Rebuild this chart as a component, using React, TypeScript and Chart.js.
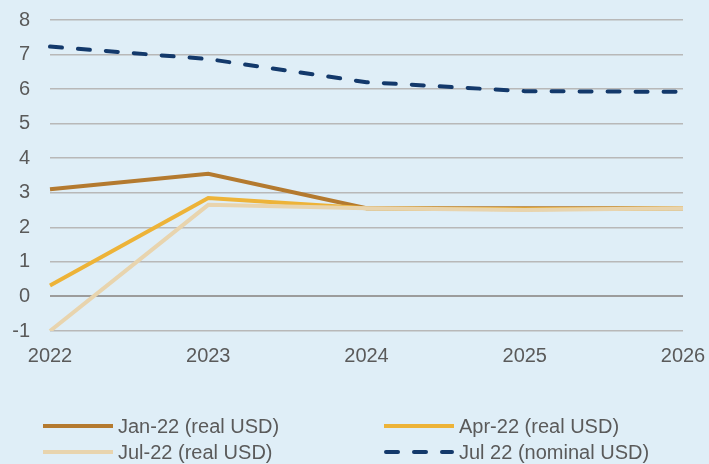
import React, { useEffect, useRef } from "react";
import { Chart, registerables } from "chart.js";

Chart.register(...registerables);

const years = ["2022", "2023", "2024", "2025", "2026"];
const jan22Real = [3.1, 3.55, 2.55, 2.55, 2.55];
const apr22Real = [0.32, 2.85, 2.55, 2.52, 2.55];
const jul22Real = [-1.0, 2.65, 2.55, 2.5, 2.55];
const jul22Nominal = [7.23, 6.87, 6.2, 5.94, 5.92];
const seriesLabels = ["Jan-22 (real USD)", "Apr-22 (real USD)", "Jul-22 (real USD)", "Jul 22 (nominal USD)"];

const FONT = '"Liberation Sans", Arial, sans-serif';
const TEXT = "#5a5a5a";

const legendPlugin = {
  id: "gridLegend",
  afterDraw(chart: any) {
    const ctx = chart.ctx;
    const cols = [43, 384];
    const rows = [426, 452];
    const sampleLen = 70;
    const order = [0, 1, 2, 3];
    ctx.save();
    order.forEach((di, i) => {
      const ds = chart.data.datasets[di];
      const x = cols[i % 2];
      const y = rows[Math.floor(i / 2)];
      ctx.beginPath();
      ctx.strokeStyle = ds.borderColor;
      ctx.lineWidth = ds.borderWidth;
      if (ds.borderDash && ds.borderDash.length) {
        ctx.setLineDash(ds.borderDash);
        ctx.lineCap = "round";
        ctx.moveTo(x + 2, y);
        ctx.lineTo(x + sampleLen - 2, y);
      } else {
        ctx.setLineDash([]);
        ctx.lineCap = "butt";
        ctx.moveTo(x, y);
        ctx.lineTo(x + sampleLen, y);
      }
      ctx.stroke();
      ctx.setLineDash([]);
      ctx.fillStyle = TEXT;
      ctx.font = `20px ${FONT}`;
      ctx.textBaseline = "middle";
      ctx.textAlign = "left";
      ctx.fillText(ds.label, x + sampleLen + 5, y + 1);
    });
    ctx.restore();
  },
};

const zeroPad = (s: any) => {
  s.paddingLeft = 0;
  s.paddingRight = 0;
  s.paddingTop = 0;
  s.paddingBottom = 0;
};

export default function App() {
  const ref = useRef<HTMLCanvasElement | null>(null);
  useEffect(() => {
    if (!ref.current) return;
    const chart = new Chart(ref.current, {
      type: "line",
      data: {
        labels: years,
        datasets: [
          { label: seriesLabels[0], data: jan22Real, borderColor: "#b47a2f", borderWidth: 4, pointRadius: 0, order: 3, tension: 0 },
          { label: seriesLabels[1], data: apr22Real, borderColor: "#edb338", borderWidth: 4, pointRadius: 0, order: 2, tension: 0 },
          { label: seriesLabels[2], data: jul22Real, borderColor: "#e8d4ae", borderWidth: 4, pointRadius: 0, order: 1, tension: 0 },
          { label: seriesLabels[3], data: jul22Nominal, borderColor: "#13396b", borderWidth: 4, pointRadius: 0, order: 0, borderDash: [12, 16], borderCapStyle: "round", tension: 0 },
        ],
      },
      options: {
        animation: false,
        responsive: false,
        layout: { padding: { left: 0, right: 26, top: 20, bottom: 93 } },
        plugins: { legend: { display: false }, tooltip: { enabled: false } },
        scales: {
          x: {
            offset: false,
            grid: { display: false, drawTicks: false },
            border: { display: false },
            ticks: { color: TEXT, font: { family: FONT, size: 20 }, padding: 13, maxRotation: 0 },
            afterFit: (s: any) => { s.height = 40; zeroPad(s); },
          },
          y: {
            min: -1,
            max: 8,
            grid: {
              drawTicks: false,
              color: (c: any) => (c.tick && c.tick.value === 0 ? "#9c9c9c" : "#b8b8b8"),
              lineWidth: (c: any) => (c.tick && c.tick.value === 0 ? 2 : 1.5),
            },
            border: { display: false },
            ticks: { stepSize: 1, color: TEXT, font: { family: FONT, size: 20 }, padding: 20 },
            afterFit: (s: any) => { s.width = 50; zeroPad(s); },
          },
        },
      },
      plugins: [legendPlugin],
    });
    return () => chart.destroy();
  }, []);
  return (
    <div style={{ position: "absolute", left: 0, top: 0, width: 709, height: 464, background: "#dfeef7" }}>
      <canvas ref={ref} width={709} height={464} style={{ display: "block" }} />
    </div>
  );
}
